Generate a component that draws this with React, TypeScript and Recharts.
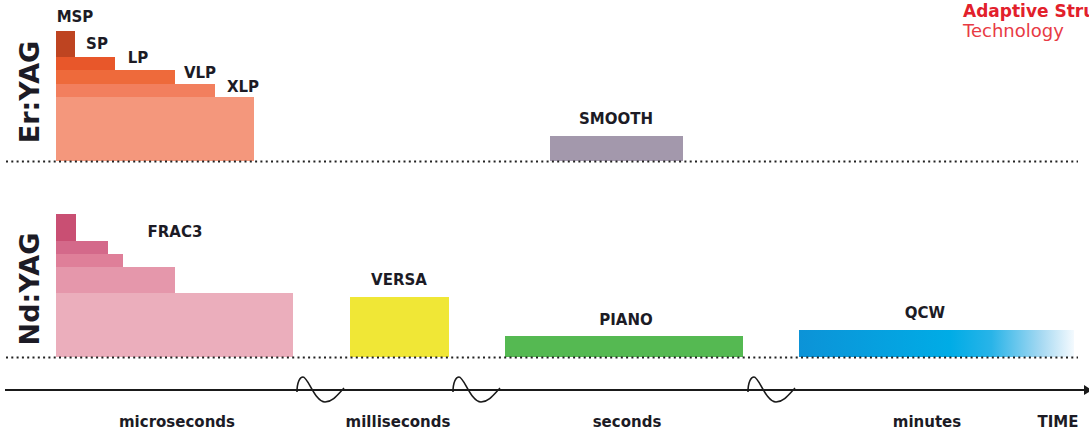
import React from 'react';
import { ComposedChart, XAxis, YAxis, ReferenceArea, ReferenceLine, ReferenceDot, Scatter } from 'recharts';

// x = position on the broken time axis, y = pulse height above each laser's baseline
const erPulses = ['MSP', 'SP', 'LP', 'VLP', 'XLP'];
const erStart = 56;
const erEnd = [75, 115, 175, 215, 254];
const erHeight = [130, 104, 91, 77, 64];

const ndPulses = ['FRAC3 a', 'FRAC3 b', 'FRAC3 c', 'FRAC3 d', 'FRAC3 e'];
const ndStart = 56;
const ndEnd = [76, 108, 123, 175, 293];
const ndHeight = [143, 116, 103, 90, 64];

const modes = ['SMOOTH', 'VERSA', 'PIANO', 'QCW'];
const modeLaser = ['er', 'nd', 'nd', 'nd'];
const modeStart = [550, 350, 505, 799];
const modeEnd = [683, 449, 743, 1074];
const modeHeight = [25, 60, 21, 27];

const timeTicks = [177, 398, 627, 927, 1058];
const timeLabels = ['microseconds', 'milliseconds', 'seconds', 'minutes', 'TIME'];
const axisBreaks = [297, 453, 748];

const W = 1089;
const H = 444;
const AXIS_H = 54;
const ER_BASE = 229;
const ND_BASE = 33;

const erColors = ['#BE4421', '#E8572A', '#EE6A3B', '#F27F5E', '#F4977C'];
const ndColors = ['#C94F73', '#D4698A', '#DF7F99', '#E597AB', '#EBAEBC'];
const modeColors = ['#A398AC', '#F0E736', '#55B952', 'url(#qcwFill)'];
const ink = '#1c1b25';
const font = '"DejaVu Sans", sans-serif';

// where the pulse names sit (centre x, height above baseline)
const labels = [
  { text: 'MSP', base: ER_BASE, x: 75, y: 144 },
  { text: 'SP', base: ER_BASE, x: 97, y: 117 },
  { text: 'LP', base: ER_BASE, x: 138, y: 103 },
  { text: 'VLP', base: ER_BASE, x: 200, y: 88 },
  { text: 'XLP', base: ER_BASE, x: 243, y: 74 },
  { text: 'SMOOTH', base: ER_BASE, x: 616, y: 42 },
  { text: 'FRAC3', base: ND_BASE, x: 175, y: 125 },
  { text: 'VERSA', base: ND_BASE, x: 399, y: 77 },
  { text: 'PIANO', base: ND_BASE, x: 626, y: 37 },
  { text: 'QCW', base: ND_BASE, x: 925, y: 44 },
];

const axisData = timeTicks.map((t, i) => ({ t, v: 0, name: timeLabels[i] }));

const Wave = (props: any) => {
  const { cx, cy } = props;
  return (
    <path
      d={`M${cx},${cy + 2} C${cx},${cy - 8} ${cx + 3},${cy - 13} ${cx + 6},${cy - 13} C${cx + 11},${cy - 13} ${cx + 18},${cy + 12} ${cx + 28},${cy + 12} C${cx + 36},${cy + 12} ${cx + 42},${cy + 3} ${cx + 47},${cy - 2}`}
      fill="none"
      stroke="#1a1a1a"
      strokeWidth={1.6}
    />
  );
};

const Arrow = (props: any) => {
  const { cx, cy } = props;
  return <path d={`M${cx - 1},${cy - 5} L${cx + 7},${cy} L${cx - 1},${cy + 5} Z`} fill="#1a1a1a" />;
};

const PulseLabel = (text: string) => (props: any) => (
  <text x={props.cx} y={props.cy} dy="0.36em" textAnchor="middle" fontFamily={font} fontWeight="bold" fontSize={15} fill={ink}>
    {text}
  </text>
);

const TimeTick = (props: any) => {
  const { x, y, payload } = props;
  const i = timeTicks.indexOf(payload.value);
  return (
    <text x={x} y={y} textAnchor="middle" fontFamily={font} fontWeight="bold" fontSize={15} fill={ink}>
      {timeLabels[i]}
    </text>
  );
};

export default function App() {
  return (
    <div style={{ position: 'absolute', left: 0, top: 0, width: W, height: H, overflow: 'hidden', background: '#fff' }}>
      <ComposedChart width={W} height={H} data={axisData} margin={{ top: 0, right: 0, bottom: 0, left: 0 }}>
        <defs>
          <linearGradient id="qcwFill" x1="0" y1="0" x2="1" y2="0">
            <stop offset="0" stopColor="#0C93D7" />
            <stop offset="0.55" stopColor="#00ACE6" />
            <stop offset="0.7" stopColor="#29B4E8" />
            <stop offset="0.88" stopColor="#A6D9F2" />
            <stop offset="1" stopColor="#F4FAFE" />
          </linearGradient>
        </defs>
        <XAxis
          dataKey="t"
          type="number"
          domain={[0, W]}
          allowDataOverflow
          ticks={timeTicks}
          interval={0}
          height={AXIS_H}
          axisLine={false}
          tickLine={false}
          tickSize={0}
          tickMargin={37}
          tick={<TimeTick />}
        />
        <YAxis type="number" domain={[0, H - AXIS_H]} allowDataOverflow hide width={0} />
        <Scatter dataKey="v" fill="none" shape={() => <g />} isAnimationActive={false} />

        {erPulses.map((p, i) => (
          <ReferenceArea key={p} x1={erStart} x2={erEnd[i]} y1={ER_BASE} y2={ER_BASE + erHeight[i]} fill={erColors[i]} fillOpacity={1} stroke="none" />
        ))}
        {ndPulses.map((p, i) => (
          <ReferenceArea key={p} x1={ndStart} x2={ndEnd[i]} y1={ND_BASE} y2={ND_BASE + ndHeight[i]} fill={ndColors[i]} fillOpacity={1} stroke="none" />
        ))}
        {modes.map((m, i) => {
          const base = modeLaser[i] === 'er' ? ER_BASE : ND_BASE;
          return (
            <ReferenceArea key={m} x1={modeStart[i]} x2={modeEnd[i]} y1={base} y2={base + modeHeight[i]} fill={modeColors[i]} fillOpacity={1} stroke="none" />
          );
        })}

        <ReferenceLine segment={[{ x: 6, y: ER_BASE - 0.5 }, { x: 1078, y: ER_BASE - 0.5 }]} stroke="#222" strokeWidth={2} strokeDasharray="2 3.3" />
        <ReferenceLine segment={[{ x: 6, y: ND_BASE - 0.5 }, { x: 1078, y: ND_BASE - 0.5 }]} stroke="#222" strokeWidth={2} strokeDasharray="2 3.3" />
        <ReferenceLine segment={[{ x: 5, y: 0 }, { x: 1085, y: 0 }]} stroke="#1a1a1a" strokeWidth={1.8} />
        <ReferenceDot x={1085} y={0} r={0} shape={<Arrow />} />
        {axisBreaks.map((b) => (
          <ReferenceDot key={b} x={b} y={0} r={0} shape={<Wave />} />
        ))}
        {labels.map((l) => (
          <ReferenceDot key={l.text} x={l.x} y={l.base + l.y} r={0} shape={PulseLabel(l.text)} />
        ))}
      </ComposedChart>
      <svg width={W} height={H} style={{ position: 'absolute', left: 0, top: 0, pointerEvents: 'none' }}>
        <text transform="translate(39,92) rotate(-90)" textAnchor="middle" fontFamily={font} fontWeight="bold" fontSize={27} fill={ink}>
          Er:YAG
        </text>
        <text transform="translate(39,289) rotate(-90)" textAnchor="middle" fontFamily={font} fontWeight="bold" fontSize={27} fill={ink}>
          Nd:YAG
        </text>
        <text x={963} y={17} fontFamily={font} fontWeight="bold" fontSize={17} fill="#E2202B">
          Adaptive Structure
        </text>
        <text x={963} y={37} fontFamily={font} fontSize={18} fill="#E83A44">
          Technology
        </text>
      </svg>
    </div>
  );
}
